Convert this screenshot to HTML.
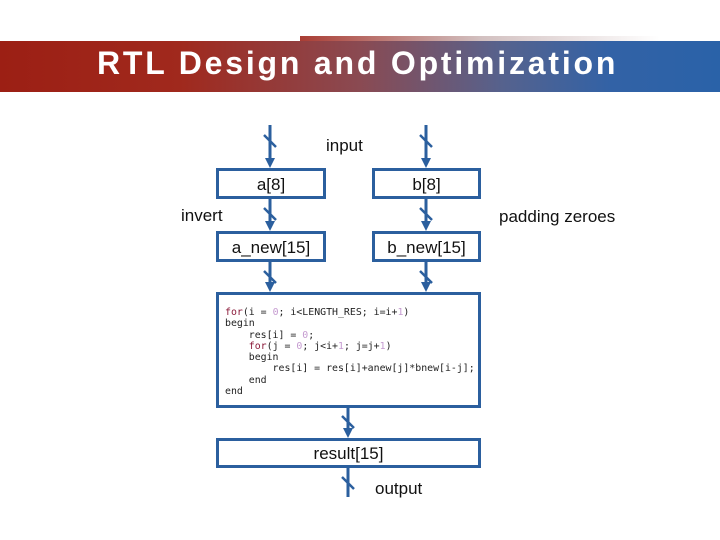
<!DOCTYPE html>
<html><head><style>
body{margin:0;width:720px;height:540px;background:#fff;position:relative;overflow:hidden;font-family:"Liberation Sans",sans-serif}
.ban{position:absolute;left:0;top:41px;width:720px;height:51px;background:linear-gradient(90deg,#9c1f14 0%,#a0291d 25%,#8a4a52 50%,#55628e 70%,#3262a6 85%,#2a62a8 100%)}
.hl{position:absolute;left:300px;top:36px;width:360px;height:6px;background:linear-gradient(90deg,rgba(160,40,30,.9),rgba(180,150,150,.6),rgba(255,255,255,0))}
.t{position:absolute;left:97px;top:45px;color:#fff;font-weight:bold;font-size:32px;letter-spacing:2.8px;white-space:nowrap}
.b{position:absolute;border:3px solid #2b5f9e;box-sizing:border-box;background:#fff;text-align:center;font-size:17px;color:#111}
.l{position:absolute;font-size:17px;color:#111}
pre{margin:0;font-family:"DejaVu Sans Mono","Liberation Mono",monospace;font-size:9.9px;line-height:11.3px;color:#222;text-align:left}
.k{color:#8b1a3a}.n{color:#c59ad0}
</style></head><body>
<div class="hl"></div>
<div class="ban"></div>
<div class="t">RTL Design and Optimization</div>
<svg style="position:absolute;left:0;top:0" width="720" height="540">
<g stroke="#2b5f9e" stroke-width="3" fill="none">
<line x1="270" y1="125" x2="270" y2="160"/>
<line x1="426" y1="125" x2="426" y2="160"/>
<line x1="270" y1="198" x2="270" y2="223"/>
<line x1="426" y1="198" x2="426" y2="223"/>
<line x1="270" y1="261" x2="270" y2="284"/>
<line x1="426" y1="261" x2="426" y2="284"/>
<line x1="348" y1="407" x2="348" y2="430"/>
<line x1="348" y1="467" x2="348" y2="497"/>
</g>
<g fill="#2b5f9e">
<polygon points="265,158 275,158 270,168"/>
<polygon points="421,158 431,158 426,168"/>
<polygon points="265,221 275,221 270,231"/>
<polygon points="421,221 431,221 426,231"/>
<polygon points="265,282 275,282 270,292"/>
<polygon points="421,282 431,282 426,292"/>
<polygon points="343,428 353,428 348,438"/>
</g>
<g stroke="#2b5f9e" stroke-width="2.5">
<line x1="264" y1="135" x2="276" y2="147"/><line x1="420" y1="135" x2="432" y2="147"/>
<line x1="264" y1="208" x2="276" y2="220"/><line x1="420" y1="208" x2="432" y2="220"/>
<line x1="264" y1="271" x2="276" y2="283"/><line x1="420" y1="271" x2="432" y2="283"/>
<line x1="342" y1="416" x2="354" y2="428"/><line x1="342" y1="477" x2="354" y2="489"/>
</g>
</svg>
<div class="l" style="left:326px;top:136px">input</div>
<div class="b" style="left:216px;top:168px;width:110px;height:31px;line-height:27px">a[8]</div>
<div class="b" style="left:372px;top:168px;width:109px;height:31px;line-height:27px">b[8]</div>
<div class="l" style="left:181px;top:206px">invert</div>
<div class="l" style="left:499px;top:207px">padding zeroes</div>
<div class="b" style="left:216px;top:231px;width:110px;height:31px;line-height:27px">a_new[15]</div>
<div class="b" style="left:372px;top:231px;width:109px;height:31px;line-height:27px">b_new[15]</div>
<div class="b" style="left:216px;top:292px;width:265px;height:116px;padding:12px 0 0 6px">
<pre><span class="k">for</span>(i = <span class="n">0</span>; i&lt;LENGTH_RES; i=i+<span class="n">1</span>)
begin
    res[i] = <span class="n">0</span>;
    <span class="k">for</span>(j = <span class="n">0</span>; j&lt;i+<span class="n">1</span>; j=j+<span class="n">1</span>)
    begin
        res[i] = res[i]+anew[j]*bnew[i-j];
    end
end</pre></div>
<div class="b" style="left:216px;top:438px;width:265px;height:30px;line-height:26px">result[15]</div>
<div class="l" style="left:375px;top:479px">output</div>
</body></html>
